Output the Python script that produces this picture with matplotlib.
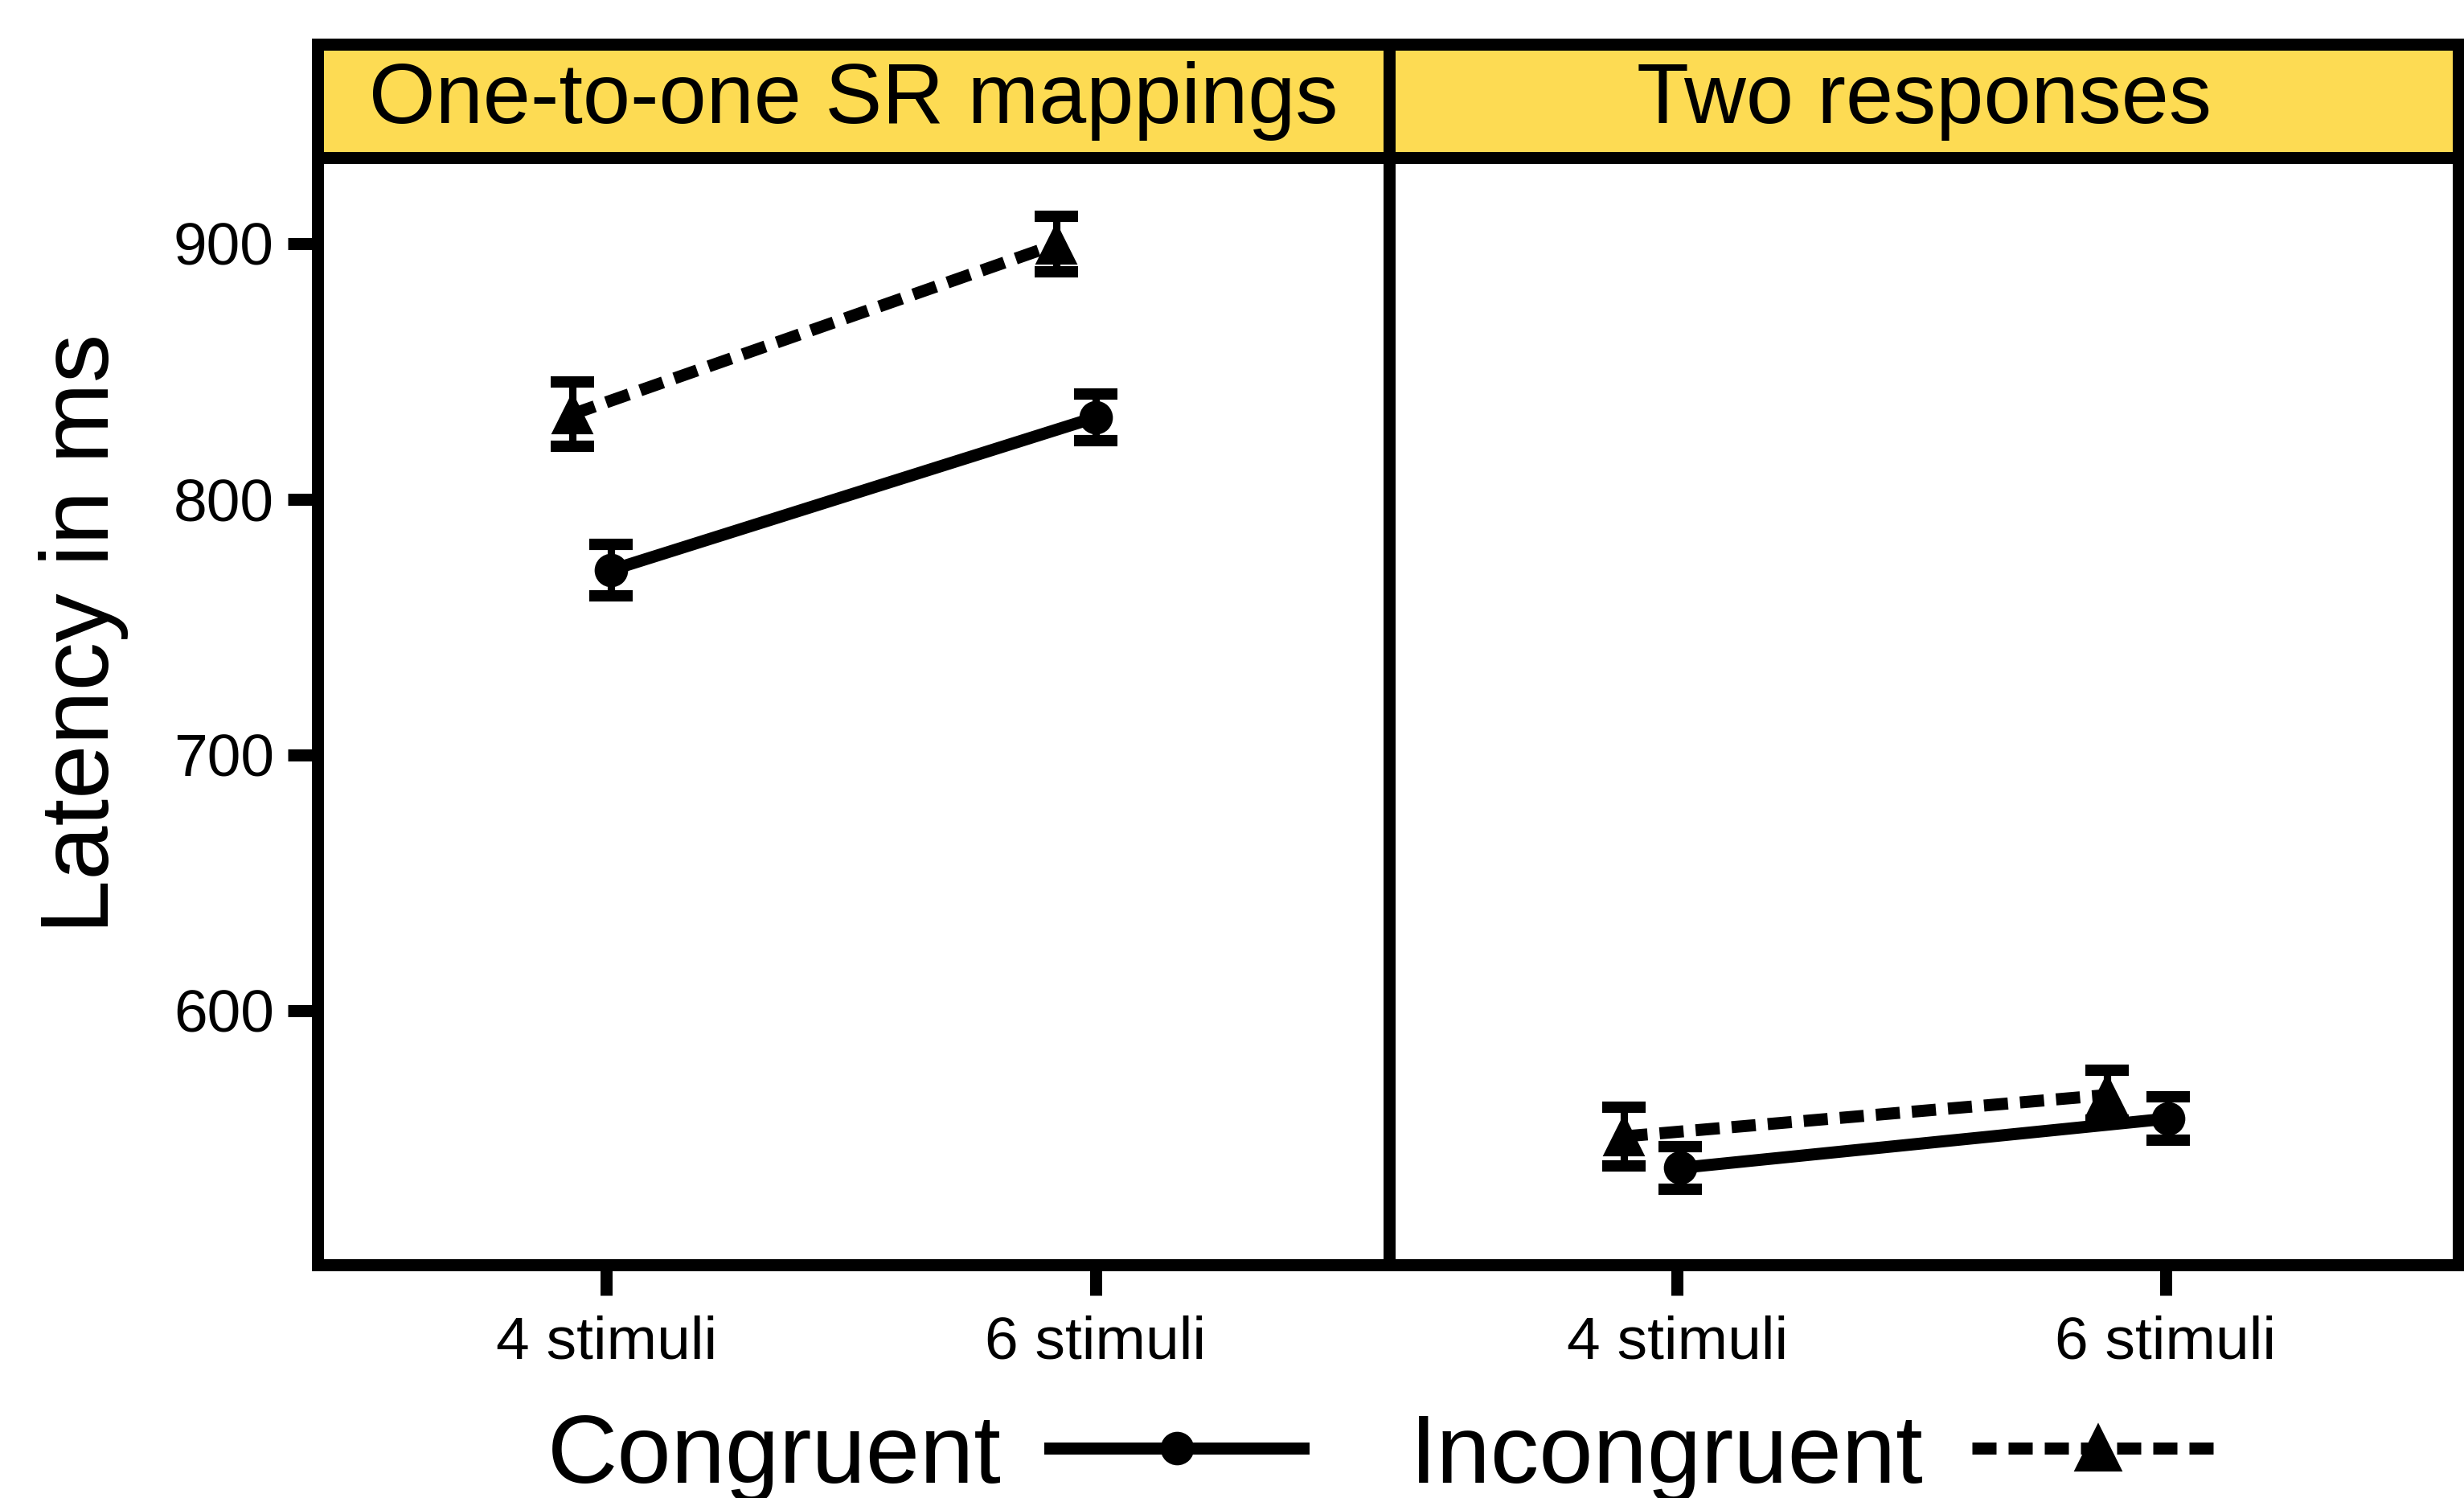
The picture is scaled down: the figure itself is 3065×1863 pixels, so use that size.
import matplotlib
matplotlib.use('Agg')
import matplotlib.pyplot as plt
from matplotlib.lines import Line2D

plt.rcParams['font.family'] = ['Liberation Sans', 'DejaVu Sans']

# ---- data ----
panels = ['One-to-one SR mappings', 'Two responses']
conditions = ['4 stimuli', '6 stimuli']
series = ['Congruent', 'Incongruent']
congruent_mean = [[772.3, 832.0], [538.5, 557.8]]
congruent_err = [[10.0, 9.0], [8.3, 8.6]]
incongruent_mean = [[833.2, 899.7], [550.8, 567.0]]
incongruent_err = [[12.6, 10.8], [11.4, 9.8]]
yticks = [600, 700, 800, 900]

# ---- style ----
congruent_dodge = [[0.01, 0.0], [0.006, 0.006]]
incongruent_dodge = [[-0.07, -0.08], [-0.11, -0.12]]
strip_color = '#FDDB53'
BW = 3.6
LW = 3.6
DASH = (0, (2.0, 1.0))

W, H = 3065, 1863
fig = plt.figure(figsize=(W / 300, H / 300), dpi=300)

left, mid, right = 395 / W, 1728 / W, 3058 / W
bottom, top, stop = 1 - 1573 / H, 1 - 196 / H, 1 - 55 / H

axes = [fig.add_axes([left, bottom, mid - left, top - bottom]),
        fig.add_axes([mid, bottom, right - mid, top - bottom])]
strips = [fig.add_axes([left, top, mid - left, stop - top]),
          fig.add_axes([mid, top, right - mid, stop - top])]

xpos = [1, 2]
for i, ax in enumerate(axes):
    xc = [x + d for x, d in zip(xpos, congruent_dodge[i])]
    xi = [x + d for x, d in zip(xpos, incongruent_dodge[i])]
    ax.errorbar(xc, congruent_mean[i], yerr=congruent_err[i], fmt='none',
                ecolor='black', elinewidth=2.2, capsize=6.5, capthick=3.4, zorder=2)
    ax.errorbar(xi, incongruent_mean[i], yerr=incongruent_err[i], fmt='none',
                ecolor='black', elinewidth=2.2, capsize=6.5, capthick=3.4, zorder=2)
    ax.plot(xc, congruent_mean[i], color='black', lw=LW, marker='o',
            markersize=9, solid_capstyle='butt', zorder=3)
    ax.plot(xi, incongruent_mean[i], color='black', lw=LW, ls=DASH, marker='^',
            markersize=11, dash_capstyle='butt', zorder=3)
    ax.set_xlim(0.41, 2.6)
    ax.set_ylim(500.6, 933.6)
    ax.set_xticks(xpos)
    ax.set_xticklabels(conditions)
    ax.set_yticks(yticks)
    for sp in ax.spines.values():
        sp.set_linewidth(BW)
        sp.set_color('black')
    ax.tick_params(axis='both', length=9, width=BW, labelsize=18, color='black')
    ax.tick_params(axis='x', pad=6)
    ax.tick_params(axis='y', pad=4)
    if i == 1:
        ax.tick_params(axis='y', left=False, labelleft=False)

for s, lab in zip(strips, panels):
    s.set_facecolor(strip_color)
    s.set_xticks([])
    s.set_yticks([])
    for sp in s.spines.values():
        sp.set_linewidth(BW)
        sp.set_color('black')
    s.text(0.5, 0.5, lab, ha='center', va='center', fontsize=25.5,
           transform=s.transAxes)

fig.text(0.034, 0.577, 'Latency in ms', rotation=90, ha='center',
         va='center', fontsize=29)

handles = [Line2D([], [], color='black', lw=LW, marker='o', markersize=9),
           Line2D([], [], color='black', lw=LW, ls=DASH, marker='^',
                  markersize=13)]
fig.legend(handles, series, loc='center', bbox_to_anchor=(0.5625, 0.027),
           ncol=2, markerfirst=False, frameon=False, fontsize=29,
           handlelength=2.6, handletextpad=0.5, columnspacing=1.1,
           borderpad=0.1)

fig.savefig('out.png', dpi=300)
